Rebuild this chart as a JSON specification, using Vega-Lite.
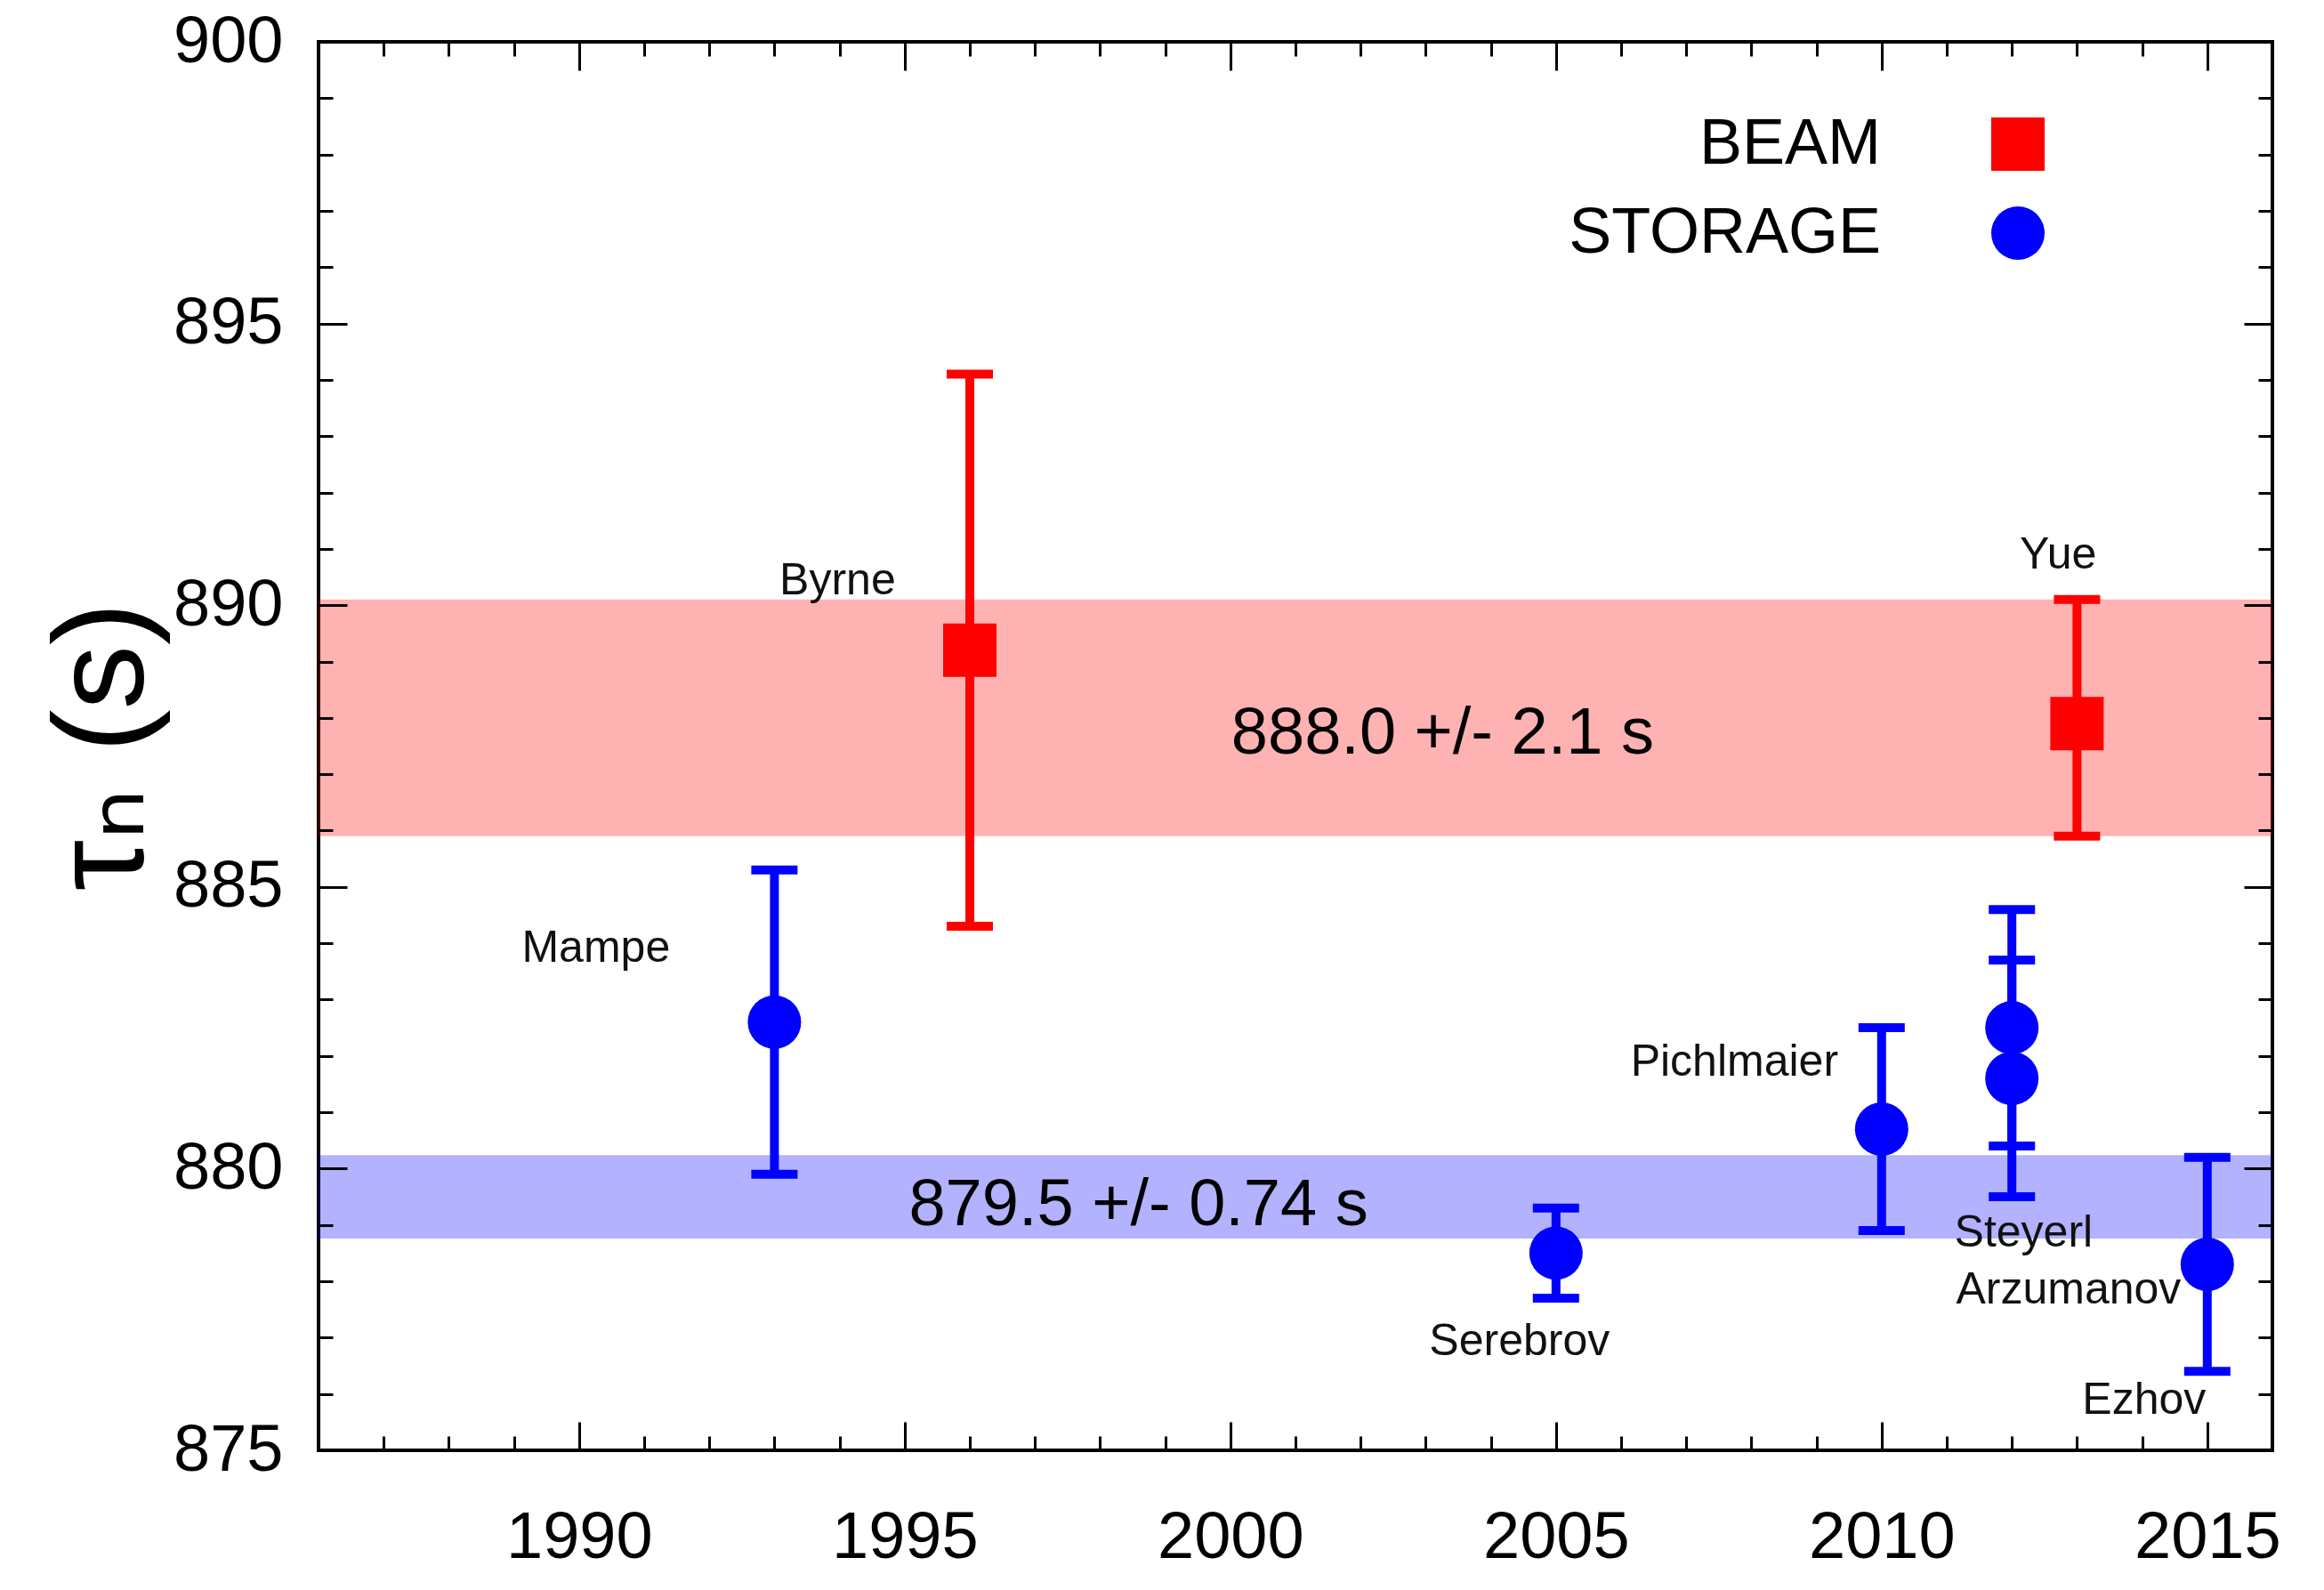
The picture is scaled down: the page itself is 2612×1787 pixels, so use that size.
{
  "$schema": "https://vega.github.io/schema/vega-lite/v6.json",
  "width": 2196,
  "height": 1583,
  "autosize": {"type": "none"},
  "padding": {"left": 358, "top": 47, "right": 58, "bottom": 157},
  "background": "white",
  "config": {
    "view": {"stroke": "black", "strokeWidth": 4},
    "font": "Liberation Sans",
    "axis": {"grid": false, "labelFont": "Liberation Sans", "labelColor": "black", "labelFlush": false, "labelOverlap": false, "labelBound": false, "tickColor": "black", "titleColor": "black"}
  },
  "datasets": {
    "m": [
      {"name": "Mampe", "year": 1993, "tau": 882.6, "lo": 879.9, "hi": 885.3, "type": "STORAGE"},
      {"name": "Byrne", "year": 1996, "tau": 889.2, "lo": 884.3, "hi": 894.1, "type": "BEAM"},
      {"name": "Serebrov", "year": 2005, "tau": 878.5, "lo": 877.7, "hi": 879.3, "type": "STORAGE"},
      {"name": "Pichlmaier", "year": 2010, "tau": 880.7, "lo": 878.9, "hi": 882.5, "type": "STORAGE"},
      {"name": "Steyerl", "year": 2012, "tau": 882.5, "lo": 880.4, "hi": 884.6, "type": "STORAGE"},
      {"name": "Arzumanov", "year": 2012, "tau": 881.6, "lo": 879.5, "hi": 883.7, "type": "STORAGE"},
      {"name": "Yue", "year": 2013, "tau": 887.9, "lo": 885.9, "hi": 890.1, "type": "BEAM"},
      {"name": "Ezhov", "year": 2015, "tau": 878.3, "lo": 876.4, "hi": 880.2, "type": "STORAGE"}
    ],
    "bands": [
      {"type": "BEAM", "lo": 885.9, "hi": 890.1, "label": "888.0 +/- 2.1 s", "year": 2003.26, "tau": 887.72},
      {"type": "STORAGE", "lo": 878.76, "hi": 880.24, "label": "879.5 +/- 0.74 s", "year": 1998.59, "tau": 879.35}
    ],
    "labels": [
      {"text": "Byrne", "year": 1993.97, "tau": 890.43},
      {"text": "Yue", "year": 2012.71, "tau": 890.88},
      {"text": "Mampe", "year": 1990.26, "tau": 883.91},
      {"text": "Pichlmaier", "year": 2007.74, "tau": 881.89},
      {"text": "Steyerl", "year": 2012.18, "tau": 878.86},
      {"text": "Arzumanov", "year": 2012.87, "tau": 877.84},
      {"text": "Serebrov", "year": 2004.44, "tau": 876.92},
      {"text": "Ezhov", "year": 2014.03, "tau": 875.89}
    ]
  },
  "resolve": {"axis": {"x": "independent", "y": "independent"}, "legend": {"color": "independent", "shape": "independent", "fill": "independent"}},
  "layer": [
    {
      "data": {"name": "bands"},
      "mark": {"type": "rect", "opacity": 0.3},
      "encoding": {
        "y": {"field": "lo", "type": "quantitative", "scale": {"domain": [875, 900], "nice": false, "zero": false}, "axis": null},
        "y2": {"field": "hi"},
        "fill": {"field": "type", "type": "nominal", "scale": {"domain": ["BEAM", "STORAGE"], "range": ["#ff0000", "#0000ff"]}, "legend": null}
      }
    },
    {
      "data": {"name": "m"},
      "mark": {"type": "errorbar", "ticks": {"size": 52, "thickness": 10, "opacity": 1}, "rule": {"strokeWidth": 10, "opacity": 1}},
      "encoding": {
        "x": {"field": "year", "type": "quantitative", "scale": {"domain": [1986, 2016], "nice": false, "zero": false}, "axis": null},
        "y": {"field": "lo", "type": "quantitative", "scale": {"domain": [875, 900], "nice": false, "zero": false}, "axis": null},
        "y2": {"field": "hi"},
        "color": {"field": "type", "type": "nominal", "scale": {"domain": ["BEAM", "STORAGE"], "range": ["#ff0000", "#0000ff"]}, "legend": null}
      }
    },
    {
      "data": {"name": "m"},
      "mark": {"type": "point", "filled": true, "opacity": 1, "size": 3600},
      "encoding": {
        "x": {"field": "year", "type": "quantitative", "scale": {"domain": [1986, 2016], "nice": false, "zero": false}, "axis": null},
        "y": {"field": "tau", "type": "quantitative", "scale": {"domain": [875, 900], "nice": false, "zero": false}, "axis": null},
        "color": {"field": "type", "type": "nominal", "scale": {"domain": ["BEAM", "STORAGE"], "range": ["#ff0000", "#0000ff"]},
          "legend": {"title": null, "orient": "none", "legendX": 1874, "legendY": 79, "padding": 0, "labelAlign": "right", "labelOffset": -190, "labelFontSize": 72, "labelFont": "Liberation Sans", "labelColor": "black", "symbolSize": 3600, "symbolStrokeWidth": 0, "symbolOpacity": 1, "rowPadding": 28, "labelLimit": 1000}},
        "shape": {"field": "type", "type": "nominal", "scale": {"domain": ["BEAM", "STORAGE"], "range": ["square", "circle"]},
          "legend": {"title": null, "orient": "none", "legendX": 1874, "legendY": 79, "padding": 0, "labelAlign": "right", "labelOffset": -190, "labelFontSize": 72, "labelFont": "Liberation Sans", "labelColor": "black", "symbolSize": 3600, "symbolStrokeWidth": 0, "symbolOpacity": 1, "rowPadding": 28, "labelLimit": 1000}}
      }
    },
    {
      "data": {"name": "labels"},
      "mark": {"type": "text", "fontSize": 50, "font": "Liberation Sans", "color": "#111111", "align": "center", "baseline": "middle"},
      "encoding": {
        "x": {"field": "year", "type": "quantitative", "scale": {"domain": [1986, 2016], "nice": false, "zero": false}, "axis": null},
        "y": {"field": "tau", "type": "quantitative", "scale": {"domain": [875, 900], "nice": false, "zero": false}, "axis": null},
        "text": {"field": "text"}
      }
    },
    {
      "data": {"name": "bands"},
      "mark": {"type": "text", "fontSize": 74, "font": "Liberation Sans", "color": "black", "align": "center", "baseline": "middle"},
      "encoding": {
        "x": {"field": "year", "type": "quantitative", "scale": {"domain": [1986, 2016], "nice": false, "zero": false}, "axis": null},
        "y": {"field": "tau", "type": "quantitative", "scale": {"domain": [875, 900], "nice": false, "zero": false}, "axis": null},
        "text": {"field": "label"}
      }
    },
    {
      "data": {"name": "m"},
      "mark": {"type": "point", "opacity": 0},
      "encoding": {
        "x": {"field": "year", "type": "quantitative", "scale": {"domain": [1986, 2016], "nice": false, "zero": false},
          "axis": {"orient": "bottom", "values": [1990, 1995, 2000, 2005, 2010, 2015], "format": "d", "ticks": false, "domain": false, "labelFontSize": 74, "labelPadding": 62, "title": null}},
        "y": {"field": "tau", "type": "quantitative", "scale": {"domain": [875, 900], "nice": false, "zero": false},
          "axis": {"orient": "left", "values": [875, 880, 885, 890, 895, 900], "format": "d", "ticks": false, "domain": false, "labelFontSize": 74, "labelPadding": 40, "title": "τₙ (s)", "titleFont": "Liberation Sans, DejaVu Sans", "titleFontSize": 145, "titleFontWeight": "normal", "titlePadding": 4}}
      }
    },
    {
      "data": {"name": "m"},
      "mark": {"type": "point", "opacity": 0},
      "encoding": {
        "x": {"field": "year", "type": "quantitative", "scale": {"domain": [1986, 2016], "nice": false, "zero": false},
          "axis": {"orient": "bottom", "values": [1990, 1995, 2000, 2005, 2010, 2015], "labels": false, "domain": false, "tickSize": -32, "tickWidth": 3, "title": null, "zindex": 1}},
        "y": {"field": "tau", "type": "quantitative", "scale": {"domain": [875, 900], "nice": false, "zero": false},
          "axis": {"orient": "left", "values": [880, 885, 890, 895], "labels": false, "domain": false, "tickSize": -32, "tickWidth": 3, "title": null, "zindex": 1}}
      }
    },
    {
      "data": {"name": "m"},
      "mark": {"type": "point", "opacity": 0},
      "encoding": {
        "x": {"field": "year", "type": "quantitative", "scale": {"domain": [1986, 2016], "nice": false, "zero": false},
          "axis": {"orient": "bottom", "values": [1987, 1988, 1989, 1991, 1992, 1993, 1994, 1996, 1997, 1998, 1999, 2001, 2002, 2003, 2004, 2006, 2007, 2008, 2009, 2011, 2012, 2013, 2014], "labels": false, "domain": false, "tickSize": -16, "tickWidth": 3, "title": null, "zindex": 1}},
        "y": {"field": "tau", "type": "quantitative", "scale": {"domain": [875, 900], "nice": false, "zero": false},
          "axis": {"orient": "left", "values": [876, 877, 878, 879, 881, 882, 883, 884, 886, 887, 888, 889, 891, 892, 893, 894, 896, 897, 898, 899], "labels": false, "domain": false, "tickSize": -16, "tickWidth": 3, "title": null, "zindex": 1}}
      }
    },
    {
      "data": {"name": "m"},
      "mark": {"type": "point", "opacity": 0},
      "encoding": {
        "x": {"field": "year", "type": "quantitative", "scale": {"domain": [1986, 2016], "nice": false, "zero": false},
          "axis": {"orient": "top", "values": [1990, 1995, 2000, 2005, 2010, 2015], "labels": false, "domain": false, "tickSize": -32, "tickWidth": 3, "title": null, "zindex": 1}},
        "y": {"field": "tau", "type": "quantitative", "scale": {"domain": [875, 900], "nice": false, "zero": false},
          "axis": {"orient": "right", "values": [880, 885, 890, 895], "labels": false, "domain": false, "tickSize": -32, "tickWidth": 3, "title": null, "zindex": 1}}
      }
    },
    {
      "data": {"name": "m"},
      "mark": {"type": "point", "opacity": 0},
      "encoding": {
        "x": {"field": "year", "type": "quantitative", "scale": {"domain": [1986, 2016], "nice": false, "zero": false},
          "axis": {"orient": "top", "values": [1987, 1988, 1989, 1991, 1992, 1993, 1994, 1996, 1997, 1998, 1999, 2001, 2002, 2003, 2004, 2006, 2007, 2008, 2009, 2011, 2012, 2013, 2014], "labels": false, "domain": false, "tickSize": -16, "tickWidth": 3, "title": null, "zindex": 1}},
        "y": {"field": "tau", "type": "quantitative", "scale": {"domain": [875, 900], "nice": false, "zero": false},
          "axis": {"orient": "right", "values": [876, 877, 878, 879, 881, 882, 883, 884, 886, 887, 888, 889, 891, 892, 893, 894, 896, 897, 898, 899], "labels": false, "domain": false, "tickSize": -16, "tickWidth": 3, "title": null, "zindex": 1}}
      }
    }
  ]
}
